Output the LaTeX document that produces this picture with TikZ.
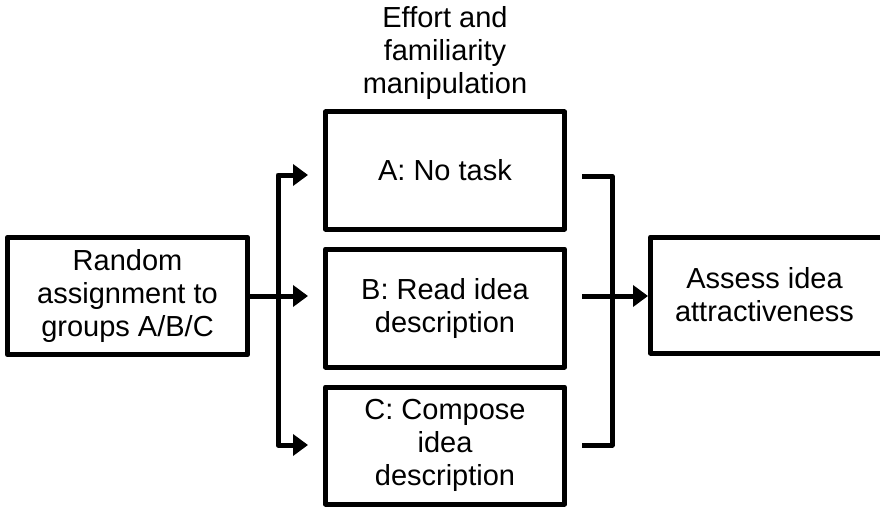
\documentclass[tikz,border=0pt]{standalone}
\usepackage{fontspec}
\setmainfont{Liberation Sans}
\usetikzlibrary{arrows.meta}
\begin{document}
\begin{tikzpicture}[x=1pt,y=-1pt,
  box/.style={draw,line width=5pt,line join=round,align=center,inner sep=0pt,
    font=\fontsize{29}{33}\selectfont},
  conn/.style={line width=5pt,line join=round},
  arr/.style={conn,-{Triangle[length=15pt,width=21pt]}}]
\useasboundingbox (0,0) rectangle (880,508);
\node[box,minimum width=240,minimum height=117.5] (b1) at (127.5,296) {Random\\assignment to\\groups A/B/C};
\node[box,minimum width=239,minimum height=117] (a) at (445,170.5) {A: No task};
\node[box,minimum width=239,minimum height=118] (b) at (445,308) {B: Read idea\\description};
\node[box,minimum width=239,minimum height=117] (c) at (445,445.5) {C: Compose\\idea\\description};
\node[box,minimum width=240,minimum height=116] (as) at (770.5,295) {Assess idea\hspace*{12pt}\\attractiveness\hspace*{12pt}};
\node[align=center,inner sep=0pt,font=\fontsize{29}{33}\selectfont] (lbl) at (445,53) {Effort and\\familiarity\\manipulation};
\coordinate (ja) at (278,175);
\coordinate (jb) at (278,296);
\coordinate (jc) at (278,445);
\coordinate (ea) at (308,175);
\coordinate (eb) at (308,296);
\coordinate (ec) at (308,445);
\draw[conn] (b1.east |- jb) -- (jb);
\draw[arr] (jb) -- (eb);
\draw[conn,{Triangle[length=15pt,width=21pt]}-{Triangle[length=15pt,width=21pt]}] (ea) -- (ja) -- (jc) -- (ec);
\coordinate (ra) at (582,176);
\coordinate (rt) at (612,176);
\coordinate (rb) at (612,445);
\coordinate (rc) at (582,445);
\coordinate (rm) at (582,296);
\draw[conn] (ra) -- (rt) -- (rb) -- (rc);
\draw[arr] (rm) -- (as.west |- rm);
\end{tikzpicture}
\end{document}
